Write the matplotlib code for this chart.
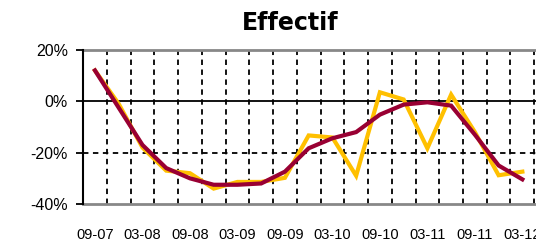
import matplotlib.pyplot as plt
import numpy as np

# Effectif - evolution trimestrielle (%)
quarters = ['09-07', '12-07', '03-08', '06-08', '09-08', '12-08', '03-09', '06-09',
            '09-09', '12-09', '03-10', '06-10', '09-10', '12-10', '03-11', '06-11',
            '09-11', '12-11', '03-12']
yellow_vals = [12.0, -1.0, -18.0, -27.0, -28.0, -34.0, -31.4, -31.4, -29.8, -13.3,
               -14.1, -29.0, 3.5, 0.7, -18.3, 2.6, -12.0, -28.8, -27.4]
red_vals = [12.0, -2.5, -17.0, -26.0, -30.0, -32.5, -32.5, -32.0, -27.4, -18.3,
            -14.4, -12.0, -5.2, -1.3, -0.4, -1.7, -13.0, -25.0, -30.4]
yticks = [20, 0, -20, -40]

fig = plt.figure(figsize=(5.36, 2.47), dpi=100)
ax = fig.add_axes([0.155, 0.174, 0.886, 0.624])

x = np.arange(len(quarters))
ax.plot(x, yellow_vals, color='#FFC000', lw=3, solid_joinstyle='miter', zorder=3)
ax.plot(x, red_vals, color='#990033', lw=3, solid_joinstyle='miter', zorder=4)

ax.set_xlim(-0.5, 19.5)
ax.set_ylim(-40, 20)

# vertical dashed gridlines between categories
for b in np.arange(0.5, 19.6, 1.0):
    ax.axvline(b, color='black', lw=1.3, ls=(0, (3, 2.5)), zorder=1)
ax.axhline(0, color='black', lw=1.3, zorder=2)
ax.axhline(-20, color='black', lw=1.3, ls=(0, (3, 2.5)), zorder=2)

for s in ['top', 'right', 'bottom']:
    ax.spines[s].set_visible(False)
ax.axhline(20, color='#888888', lw=2, zorder=2, clip_on=False)
ax.axhline(-40, color='#888888', lw=2, zorder=2, clip_on=False)
ax.spines['left'].set_color('black')
ax.spines['left'].set_linewidth(1.5)

ax.set_yticks(yticks)
ax.set_yticklabels([f'{v}%' for v in yticks], fontname='Liberation Sans', fontsize=11.5)
ax.tick_params(axis='y', length=5, width=1.3, pad=6)

ax.set_xticks(x[::2])
ax.set_xticklabels(quarters[::2], fontname='Liberation Sans', fontsize=10.5)
ax.tick_params(axis='x', length=0, pad=17)

fig.text(0.542, 0.905, 'Effectif', ha='center', va='center',
         fontsize=17, fontweight='bold', family='DejaVu Sans')

plt.savefig('out.png', dpi=100)
